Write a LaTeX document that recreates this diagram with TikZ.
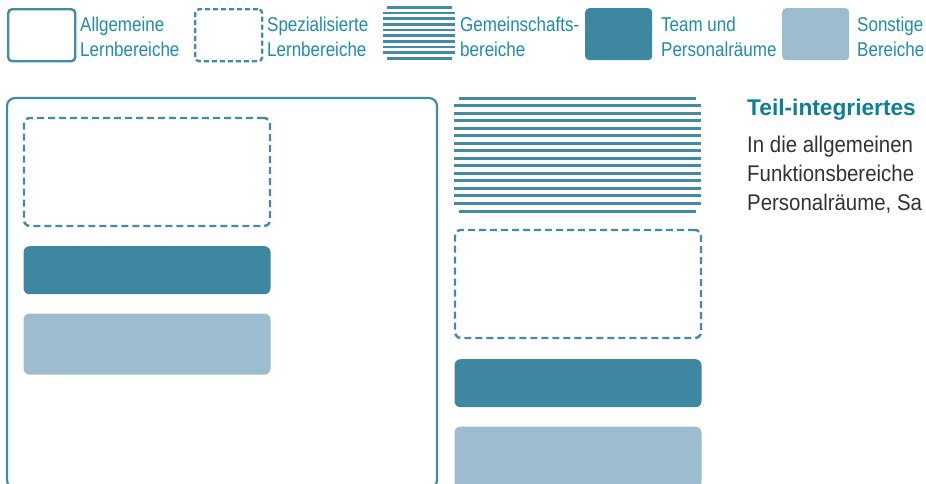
\documentclass[tikz,border=0pt]{standalone}
\usepackage{fontspec}
\usetikzlibrary{positioning}
\setmainfont{Liberation Sans}
\newfontfamily\legfont[FakeStretch=0.85]{Liberation Sans}
\newfontfamily\bodyfont[FakeStretch=0.9]{Liberation Sans}
\definecolor{framecol}{RGB}{66,139,165}
\definecolor{teamcol}{RGB}{61,135,160}
\definecolor{othercol}{RGB}{155,189,205}
\definecolor{labelcol}{RGB}{30,140,170}
\definecolor{headcol}{RGB}{12,127,152}
\definecolor{bodycol}{RGB}{50,50,50}

\begin{document}
\begin{tikzpicture}[x=1pt,y=-1pt,
  area/.style={draw=framecol,line width=2.2pt,rounded corners=8pt,inner sep=0pt,outer sep=0pt},
  spezbox/.style={draw=framecol,line width=2.4pt,dash pattern=on 7pt off 4pt,rounded corners=6pt,
    minimum width=246pt,minimum height=108pt,inner sep=0pt,outer sep=0pt},
  teambox/.style={fill=teamcol,rounded corners=6pt,minimum width=247pt,minimum height=48pt,inner sep=0pt},
  sonstbox/.style={fill=othercol,rounded corners=6pt,minimum width=247pt,minimum height=61pt,inner sep=0pt},
  legbox/.style={rounded corners=4pt,minimum width=67pt,minimum height=52pt,inner sep=0pt,anchor=north west},
  stripe/.style={draw=framecol,line width=3pt},
  legstripe/.style={draw=framecol,line width=2.6pt},
  legtext/.style={anchor=north west,inner sep=0pt,align=left,text=labelcol,
    font=\legfont\fontsize{20}{25}\selectfont}]
\useasboundingbox (0,0) rectangle (926,483);
\clip (0,0) rectangle (926,483);

\node[legbox,draw=framecol,line width=2.4pt] (lg1) at (7,8) {};
\node[legtext] (lt1) at (80,17) {Allgemeine\\Lernbereiche};
\node[legbox,draw=framecol,line width=2.4pt,dash pattern=on 5pt off 3pt] (lg2) at (194,8) {};
\node[legtext] (lt2) at (267,17) {Spezialisierte\\Lernbereiche};
\foreach \i in {1,...,8}
  \draw[legstripe] (383,{7.3+\i*5.67}) -- (455,{7.3+\i*5.67});
\draw[legstripe] (387,7.3) -- (452,7.3);
\draw[legstripe] (387,58.3) -- (452,58.3);
\node[legtext] (lt3) at (460,17) {Gemeinschafts-\\bereiche};
\node[legbox,fill=teamcol] (lg4) at (585,8) {};
\node[legtext] (lt4) at (661,17) {Team und\\Personalräume};
\node[legbox,fill=othercol] (lg5) at (782,8) {};
\node[legtext] (lt5) at (857,17) {Sonstige\\Bereiche};

\node[area,anchor=north west,minimum width=430pt,minimum height=390pt] (allg) at (7,98) {};
\node[spezbox,anchor=north west] (spez1) at (24,118) {};
\node[teambox,below=20pt of spez1] (team1) {};
\node[sonstbox,below=19pt of team1] (sonst1) {};

\foreach \i in {1,...,14}
  \draw[stripe] (454,{98+\i*7.53}) -- (701,{98+\i*7.53});
\draw[stripe] (459,98) -- (696,98);
\draw[stripe] (459,211) -- (696,211);
\node[spezbox,anchor=north west] (spez2) at (455,230) {};
\node[teambox,below=21pt of spez2] (team2) {};
\node[sonstbox,below=19pt of team2] (sonst2) {};

\node[anchor=north west,inner sep=0pt,text=headcol,font=\bfseries\fontsize{22.7}{29}\selectfont]
  (head) at (747,99) {Teil-integriertes};
\node[anchor=north west,inner sep=0pt,align=left,text=bodycol,font=\bodyfont\fontsize{22.7}{29}\selectfont]
  (body) at (747,136) {In die allgemeinen\\Funktionsbereiche\\Personalräume, Sa};
\end{tikzpicture}
\end{document}
